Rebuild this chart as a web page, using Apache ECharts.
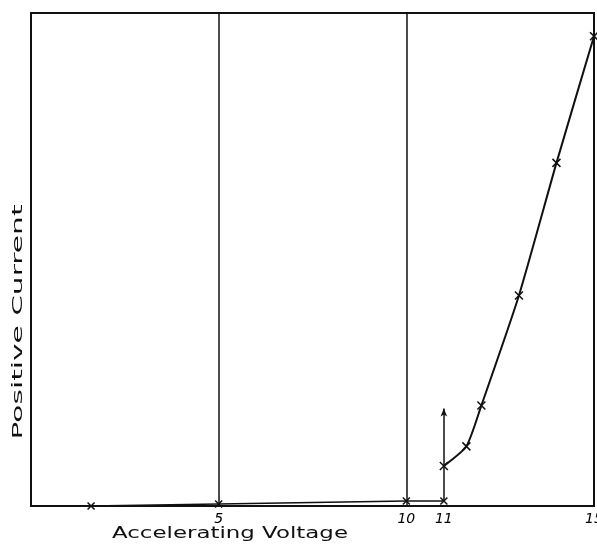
<!DOCTYPE html>
<html>
<head>
<meta charset="utf-8">
<script src="https://cdn.jsdelivr.net/npm/echarts@6/dist/echarts.min.js"></script>
<style>
  html, body { margin: 0; padding: 0; background: #fff; }
  #chart { width: 597px; height: 548px; }
</style>
</head>
<body>
<div id="chart"></div>
<script>
// values (current in arbitrary units, 0-100)
const tickLabels = [5, 10, 11, 15];
const gridLines = [5, 10];
const baseVoltage = [0, 1.6, 5, 10, 11];
const baseCurrent = [0, 0, 0.4, 1, 1];
const baseMarked = [false, true, true, true, true];
const riseVoltage = [11, 11.6, 12, 13, 14, 15];
const riseCurrent = [8.1, 12.1, 20.4, 42.7, 69.6, 95.3];
const arrowAt = [11, 1, 19.8];
const xName = "Accelerating Voltage";
const yName = "Positive Current";

const cross = "path://M0,0L10,10M10,0L0,10";
const font = "'DejaVu Sans', sans-serif";

function measure(text, size) {
  const ctx = document.createElement("canvas").getContext("2d");
  ctx.font = size + "px " + "DejaVu Sans";
  return ctx.measureText(text).width;
}

const chart = echarts.init(document.getElementById("chart"));
const option = {
  animation: false,
  grid: {
    left: 31,
    right: 3,
    top: 13,
    bottom: 42,
    outerBoundsMode: "none",
    containLabel: false,
    show: true,
    borderColor: "#111",
    borderWidth: 2,
  },
  xAxis: {
    type: "value",
    min: 0,
    max: 15,
    interval: 1,
    axisLine: { show: false },
    axisTick: { show: false },
    splitLine: { show: false },
    axisLabel: {
      color: "#000",
      fontSize: 14,
      fontStyle: "italic",
      fontFamily: font,
      margin: 6,
      showMaxLabel: true,
      formatter: (v) => (tickLabels.includes(v) ? String(v) : ""),
    },
  },
  yAxis: {
    type: "value",
    min: 0,
    max: 100,
    axisLine: { show: false },
    axisTick: { show: false },
    splitLine: { show: false },
    axisLabel: { show: false },
  },
  series: [
    {
      type: "line",
      data: baseVoltage.map((v, i) => ({
        value: [v, baseCurrent[i]],
        symbol: baseMarked[i] ? cross : "none",
      })),
      symbolSize: 7,
      lineStyle: { color: "#111", width: 1.5 },
      itemStyle: { color: "#111", borderColor: "#111", borderWidth: 1.5 },
      markLine: {
        silent: true,
        symbol: "none",
        label: { show: false },
        lineStyle: { color: "#111", width: 1.5, type: "solid" },
        data: [
          ...gridLines.map((x) => ({ xAxis: x })),
          [
            { coord: [arrowAt[0], arrowAt[1]], symbol: "none" },
            { coord: [arrowAt[0], arrowAt[2]], symbol: "arrow", symbolSize: [5, 8] },
          ],
        ],
      },
    },
    {
      type: "line",
      smooth: 0.2,
      data: riseVoltage.map((v, i) => [v, riseCurrent[i]]),
      symbol: cross,
      symbolSize: 8,
      lineStyle: { color: "#111", width: 2 },
      itemStyle: { color: "#111", borderColor: "#111", borderWidth: 1.5 },
    },
  ],
  graphic: [
    {
      type: "text",
      x: 230,
      y: 534,
      scaleX: 236 / measure(xName, 15),
      style: {
        text: xName,
        fontSize: 15,
        fontFamily: font,
        fill: "#111",
        align: "center",
        verticalAlign: "middle",
      },
    },
    {
      type: "text",
      x: 18,
      y: 322,
      rotation: Math.PI / 2,
      scaleX: 235 / measure(yName, 14),
      style: {
        text: yName,
        fontSize: 14,
        fontFamily: font,
        fill: "#111",
        align: "center",
        verticalAlign: "middle",
      },
    },
  ],
};

chart.setOption(option);
window.addEventListener("resize", () => {
  chart.resize();
});
</script>
</body>
</html>
